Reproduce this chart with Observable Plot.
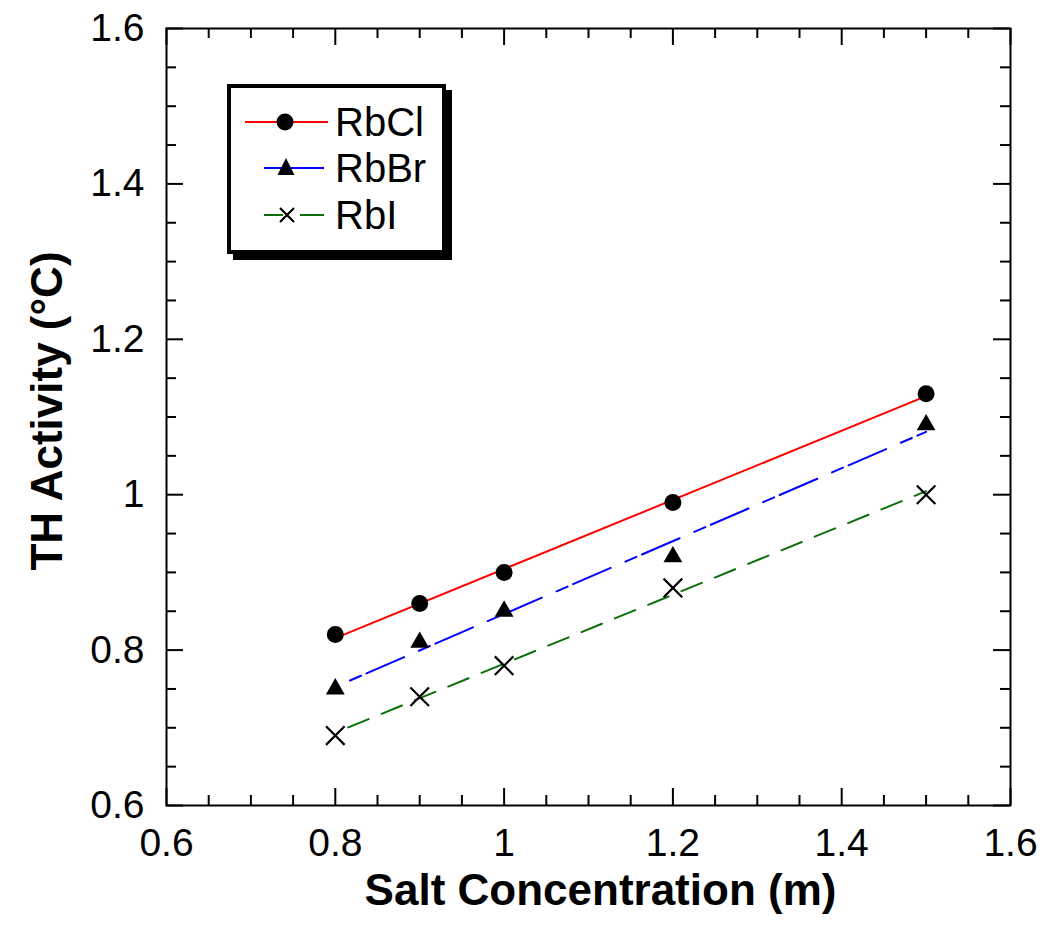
<!DOCTYPE html>
<html>
<head>
<meta charset="utf-8">
<script src="https://cdn.jsdelivr.net/npm/d3@7"></script>
<script src="https://cdn.jsdelivr.net/npm/@observablehq/plot@0.6"></script>
<style>
  html, body { margin: 0; padding: 0; background: #fff; }
  #wrap { position: relative; width: 1050px; height: 943px; font-family: "Liberation Sans", Arial, sans-serif; }
  #legend { position: absolute; left: 227px; top: 84px; width: 211px; height: 162px; border: 4px solid #000; box-shadow: 6px 6px 0 #000; background: #fff; }
</style>
</head>
<body>
<div id="wrap"></div>
<script>
// ---- data ----
const concentrations = [0.8, 0.9, 1.0, 1.2, 1.5];
const rbcl = [0.82, 0.86, 0.90, 0.99, 1.13];
const rbbr = [0.75, 0.81, 0.85, 0.92, 1.09];
const rbi  = [0.69, 0.74, 0.78, 0.88, 1.00];
const seriesNames = ["RbCl", "RbBr", "RbI"];
const seriesColors = ["#ff0000", "#0000ff", "#0b6e0b"];
const seriesDash = [null, "41,16,12,6", "22,14"];
const seriesDashOffset = [0, 41, 22];
const seriesSymbols = ["circle", "triangle", "times"];
const majorTicks = [0.6, 0.8, 1.0, 1.2, 1.4, 1.6];
const majorLabels = ["0.6", "0.8", "1", "1.2", "1.4", "1.6"];
const minorTicks = [0.65, 0.7, 0.75, 0.85, 0.9, 0.95, 1.05, 1.1, 1.15, 1.25, 1.3, 1.35, 1.45, 1.5, 1.55];
const xTitle = "Salt Concentration (m)";
const yTitle = "TH Activity (°C)";

const seriesValues = [rbcl, rbbr, rbi];
const table = [];
seriesNames.forEach((name, s) => {
  concentrations.forEach((c, i) => table.push({series: name, x: c, y: seriesValues[s][i]}));
});

const W = 1050, H = 943;
const mL = 166, mR = 40, mT = 28, mB = 138;
const PW = W - mL - mR, PH = H - mT - mB;
const MAJ = 17, MIN = 10;
const fmt = d => majorLabels[majorTicks.findIndex(t => Math.abs(t - d) < 1e-9)];

const marks = [
  Plot.frame({stroke: "#000", strokeWidth: 2}),
  // ticks, inward, on all four sides
  Plot.tickX(majorTicks, {x: d => d, insetTop: PH - MAJ, strokeWidth: 2}),
  Plot.tickX(minorTicks, {x: d => d, insetTop: PH - MIN, strokeWidth: 2}),
  Plot.tickX(majorTicks, {x: d => d, insetBottom: PH - MAJ, strokeWidth: 2}),
  Plot.tickX(minorTicks, {x: d => d, insetBottom: PH - MIN, strokeWidth: 2}),
  Plot.tickY(majorTicks, {y: d => d, insetRight: PW - MAJ, strokeWidth: 2}),
  Plot.tickY(minorTicks, {y: d => d, insetRight: PW - MIN, strokeWidth: 2}),
  Plot.tickY(majorTicks, {y: d => d, insetLeft: PW - MAJ, strokeWidth: 2}),
  Plot.tickY(minorTicks, {y: d => d, insetLeft: PW - MIN, strokeWidth: 2}),
  Plot.axisX(majorTicks, {anchor: "bottom", tickSize: 0, tickPadding: 23, tickFormat: fmt, fontSize: 39, label: null}),
  Plot.axisY(majorTicks, {anchor: "left", tickSize: 0, tickPadding: 22, tickFormat: fmt, fontSize: 39, label: null}),
  Plot.text([xTitle], {frameAnchor: "bottom", text: d => d, dx: 12, dy: 85, lineAnchor: "middle", textAnchor: "middle", fontSize: 44, fontWeight: "bold"}),
  Plot.text([yTitle], {frameAnchor: "left", text: d => d, dx: -119, dy: -6, rotate: -90, lineAnchor: "middle", textAnchor: "middle", fontSize: 44, fontWeight: "bold"})
];

seriesNames.forEach((name, s) => {
  const d = table.filter(r => r.series === name);
  marks.push(Plot.linearRegressionY(d, {x: "x", y: "y", stroke: seriesColors[s], strokeWidth: 2, strokeDasharray: seriesDash[s], strokeDashoffset: seriesDashOffset[s], ci: 0}));
});
marks.push(Plot.dot(table.filter(r => r.series === "RbCl"), {x: "x", y: "y", symbol: "circle", r: 8.5, fill: "#000"}));
marks.push(Plot.dot(table.filter(r => r.series === "RbBr"), {x: "x", y: "y", symbol: "triangle", r: 7, fill: "#000"}));
marks.push(Plot.dot(table.filter(r => r.series === "RbI"), {x: "x", y: "y", symbol: "times", r: 8.5, stroke: "#000", strokeWidth: 2.2}));

const chart = Plot.plot({
  width: W, height: H,
  marginLeft: mL, marginRight: mR, marginTop: mT, marginBottom: mB,
  style: {fontFamily: '"Liberation Sans", Arial, sans-serif', color: "#000", background: "#fff", overflow: "visible"},
  x: {domain: [0.6, 1.6]},
  y: {domain: [0.6, 1.6]},
  marks
});
const wrap = document.getElementById("wrap");
wrap.appendChild(chart);

// legend (HTML overlay)
const legend = document.createElement("div");
legend.id = "legend";
const rowsY = [34, 80, 127];
const lineX = [[14, 97], [33, 93], [33, 93]];
const markX = [54, 55, 56];
let svg = `<svg width="211" height="162" xmlns="http://www.w3.org/2000/svg" style="display:block">`;
seriesNames.forEach((name, s) => {
  const y = rowsY[s];
  if (s === 2) {
    svg += `<line x1="${lineX[s][0]}" y1="${y}" x2="${markX[s] - 4}" y2="${y}" stroke="${seriesColors[s]}" stroke-width="2"/>`;
    svg += `<line x1="${markX[s] + 13}" y1="${y}" x2="${lineX[s][1]}" y2="${y}" stroke="${seriesColors[s]}" stroke-width="2"/>`;
  } else {
    svg += `<line x1="${lineX[s][0]}" y1="${y}" x2="${lineX[s][1]}" y2="${y}" stroke="${seriesColors[s]}" stroke-width="2"/>`;
  }
  const m = markX[s];
  if (seriesSymbols[s] === "circle") svg += `<circle cx="${m}" cy="${y}" r="8.5" fill="#000"/>`;
  if (seriesSymbols[s] === "triangle") svg += `<path d="M${m},${y - 10} L${m + 8.5},${y + 7} L${m - 8.5},${y + 7} Z" fill="#000"/>`;
  if (seriesSymbols[s] === "times") svg += `<path d="M${m - 7},${y - 7} L${m + 7},${y + 7} M${m + 7},${y - 7} L${m - 7},${y + 7}" stroke="#000" stroke-width="2.2"/>`;
  svg += `<text x="104" y="${y}" dy="0.36em" font-size="40" font-family="Liberation Sans, Arial, sans-serif" fill="#000">${name}</text>`;
});
svg += `</svg>`;
legend.innerHTML = svg;
wrap.appendChild(legend);
</script>
</body>
</html>
